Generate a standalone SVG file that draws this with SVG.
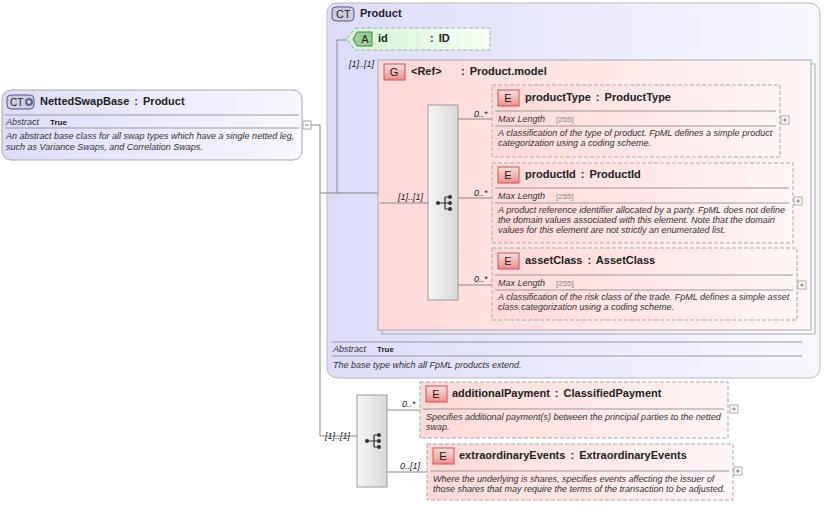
<svg xmlns="http://www.w3.org/2000/svg" width="825" height="506" viewBox="0 0 825 506">
<defs>
<linearGradient id="lav" x1="0" y1="0" x2="1" y2="0"><stop offset="0" stop-color="#dcdcf8"/><stop offset="1" stop-color="#f8f8fe"/></linearGradient>
<linearGradient id="pink" x1="0" y1="0" x2="1" y2="0"><stop offset="0" stop-color="#ffd8d8"/><stop offset="1" stop-color="#fff6f6"/></linearGradient>
<linearGradient id="green" x1="0" y1="0" x2="1" y2="0"><stop offset="0" stop-color="#d4f4d4"/><stop offset="1" stop-color="#f6fff6"/></linearGradient>
<linearGradient id="gray" x1="0" y1="0" x2="1" y2="0"><stop offset="0" stop-color="#f4f4f4"/><stop offset="1" stop-color="#d8d8d8"/></linearGradient>
<linearGradient id="badgeE" x1="0" y1="0" x2="0" y2="1"><stop offset="0" stop-color="#fbe0e0"/><stop offset="1" stop-color="#f08c8c"/></linearGradient>
<g id="seqicon"><path d="M-7 0H0M0 -6V6M0 -6H5M0 0H5M0 6H5" stroke="#333" fill="none" stroke-width="1.2"/><circle cx="-7" cy="0" r="2" fill="#333"/><circle cx="5" cy="-6" r="2" fill="#333"/><circle cx="5" cy="0" r="2" fill="#333"/><circle cx="5" cy="6" r="2" fill="#333"/></g>
<g id="plus"><rect x="0" y="0" width="8" height="8" fill="#fff" stroke="#aaa"/><path d="M2 4H6M4 2V6" stroke="#888"/></g>
</defs>
<style>
text{font-family:"Liberation Sans",Arial,sans-serif;fill:#222}
.t{font-size:11px;font-weight:bold;word-spacing:2px}
.s{font-size:9px;font-style:italic;fill:#333}
.k{font-size:8px;font-weight:bold}
.g{font-size:8px;fill:#888}
.m{font-size:9px;font-style:italic}
.el{fill:url(#pink);stroke:#aaa;stroke-dasharray:4 2}
.sep{stroke:#999;stroke-width:1}
.ln{stroke:#888;fill:none}
.bE{fill:url(#badgeE);stroke:#c55}
.bt{font-size:11px;text-anchor:middle}
</style>

<g id="NettedSwapBase">
<rect x="2" y="90" width="300" height="70" rx="9" fill="url(#lav)" stroke="#aaa"/>
<rect x="7" y="95" width="27" height="14" rx="4" fill="#ccd" stroke="#558"/>
<text x="10" y="106" style="font-size:10px">CT</text>
<circle cx="29" cy="102" r="4" fill="#669"/><path d="M27 102H31M29 100V104" stroke="#fff"/>
<text class="t" x="40" y="105">NettedSwapBase : Product</text>
<line class="sep" x1="5" y1="115" x2="299" y2="115"/>
<text class="s" x="6" y="125">Abstract</text><text class="k" x="50" y="125">True</text>
<line class="sep" x1="5" y1="128" x2="299" y2="128"/>
<text class="s" x="6" y="139">An abstract base class for all swap types which have a single netted leg,</text>
<text class="s" x="6" y="150">such as Variance Swaps, and Correlation Swaps.</text>
<rect x="303" y="121" width="8" height="8" fill="#fff" stroke="#aaa"/><path d="M305 125H309" stroke="#888"/>
</g>

<g id="Product">
<rect x="327" y="3" width="493" height="375" rx="10" fill="url(#lav)" stroke="#bbb"/>
<rect x="332" y="7" width="22" height="14" rx="4" fill="#ccd" stroke="#558"/>
<text x="336" y="18" style="font-size:11px">CT</text>
<text class="t" x="360" y="17">Product</text>
<line class="sep" x1="332" y1="342" x2="802" y2="342"/>
<text class="s" x="333" y="352">Abstract</text><text class="k" x="377" y="352">True</text>
<line class="sep" x1="332" y1="356" x2="802" y2="356"/>
<text class="s" x="333" y="368">The base type which all FpML products extend.</text>
</g>

<g id="id">
<path d="M355 28H490V50H355L347 39Z" fill="url(#green)" stroke="#aaa" stroke-dasharray="4 2"/>
<path d="M357 32H372V46H357L353 39Z" fill="#9c9" stroke="#484"/>
<text class="bt" x="365" y="43">A</text>
<text class="t" x="378" y="42">id</text>
<text class="t" x="430" y="42">: ID</text>
</g>

<g id="ProductModel">
<rect x="382" y="64" width="433" height="270" fill="none" stroke="#aaa"/>
<rect x="378" y="60" width="433" height="270" fill="url(#pink)" stroke="#aaa"/>
<rect x="384" y="64" width="21" height="16" class="bE"/>
<text class="bt" x="394" y="76">G</text>
<text class="t" x="411" y="75">&lt;Ref&gt;</text>
<text class="t" x="461" y="75">: Product.model</text>
</g>

<g id="seq1">
<rect x="428" y="105" width="30" height="195" fill="url(#gray)" stroke="#999"/>
<use href="#seqicon" x="445" y="203"/>
</g>

<g id="productType">
<rect class="el" x="492" y="85" width="288" height="72"/>
<rect class="bE" x="498" y="90" width="21" height="16"/><text class="bt" x="508" y="102">E</text>
<text class="t" x="525" y="101">productType : ProductType</text>
<line class="sep" x1="495" y1="111" x2="776" y2="111"/>
<text class="s" x="498" y="122">Max Length</text><text class="g" x="556" y="122">[255]</text>
<line class="sep" x1="495" y1="126" x2="776" y2="126"/>
<text class="s" x="498" y="136">A classification of the type of product. FpML defines a simple product</text>
<text class="s" x="498" y="146">categorization using a coding scheme.</text>
<use href="#plus" x="781" y="116"/>
</g>

<g id="productId">
<rect class="el" x="492" y="163" width="301" height="80"/>
<rect class="bE" x="498" y="167" width="21" height="16"/><text class="bt" x="508" y="179">E</text>
<text class="t" x="525" y="178">productId : ProductId</text>
<line class="sep" x1="495" y1="188" x2="789" y2="188"/>
<text class="s" x="498" y="199">Max Length</text><text class="g" x="556" y="199">[255]</text>
<line class="sep" x1="495" y1="203" x2="789" y2="203"/>
<text class="s" x="498" y="213">A product reference identifier allocated by a party. FpML does not define</text>
<text class="s" x="498" y="223">the domain values associated with this element. Note that the domain</text>
<text class="s" x="498" y="233">values for this element are not strictly an enumerated list.</text>
<use href="#plus" x="794" y="197"/>
</g>

<g id="assetClass">
<rect class="el" x="492" y="248" width="305" height="72"/>
<rect class="bE" x="498" y="253" width="21" height="16"/><text class="bt" x="508" y="265">E</text>
<text class="t" x="525" y="264">assetClass : AssetClass</text>
<line class="sep" x1="495" y1="275" x2="793" y2="275"/>
<text class="s" x="498" y="286">Max Length</text><text class="g" x="556" y="286">[255]</text>
<line class="sep" x1="495" y1="290" x2="793" y2="290"/>
<text class="s" x="498" y="300">A classification of the risk class of the trade. FpML defines a simple asset</text>
<text class="s" x="498" y="310">class categorization using a coding scheme.</text>
<use href="#plus" x="798" y="281"/>
</g>

<g id="seq2">
<rect x="357" y="395" width="30" height="92" fill="url(#gray)" stroke="#999"/>
<use href="#seqicon" x="374" y="441"/>
</g>

<g id="additionalPayment">
<rect class="el" x="420" y="382" width="308" height="56"/>
<rect class="bE" x="426" y="386" width="21" height="16"/><text class="bt" x="436" y="398">E</text>
<text class="t" x="452" y="397">additionalPayment : ClassifiedPayment</text>
<line class="sep" x1="423" y1="409" x2="724" y2="409"/>
<text class="s" x="426" y="420">Specifies additional payment(s) between the principal parties to the netted</text>
<text class="s" x="426" y="430">swap.</text>
<use href="#plus" x="730" y="405"/>
</g>

<g id="extraordinaryEvents">
<rect class="el" x="427" y="444" width="306" height="56"/>
<rect class="bE" x="433" y="448" width="21" height="16"/><text class="bt" x="443" y="460">E</text>
<text class="t" x="459" y="459">extraordinaryEvents : ExtraordinaryEvents</text>
<line class="sep" x1="430" y1="471" x2="729" y2="471"/>
<text class="s" x="433" y="482">Where the underlying is shares, specifies events affecting the issuer of</text>
<text class="s" x="433" y="492">those shares that may require the terms of the transaction to be adjusted.</text>
<use href="#plus" x="734" y="467"/>
</g>

<g id="connectors">
<path class="ln" d="M311 125H320V436H357M320 193H337V40H347M337 193H378M380 203H428M458 119H492M458 198H492M458 285H492M387 410H420M387 472H427"/>
<text class="m" x="325" y="439">[1]..[1]</text>
<text class="m" x="349" y="67">[1]..[1]</text>
<text class="m" x="398" y="200">[1]..[1]</text>
<text class="m" x="474" y="117">0..*</text>
<text class="m" x="474" y="196">0..*</text>
<text class="m" x="474" y="282">0..*</text>
<text class="m" x="402" y="407">0..*</text>
<text class="m" x="400" y="469">0..[1]</text>
</g>
</svg>
